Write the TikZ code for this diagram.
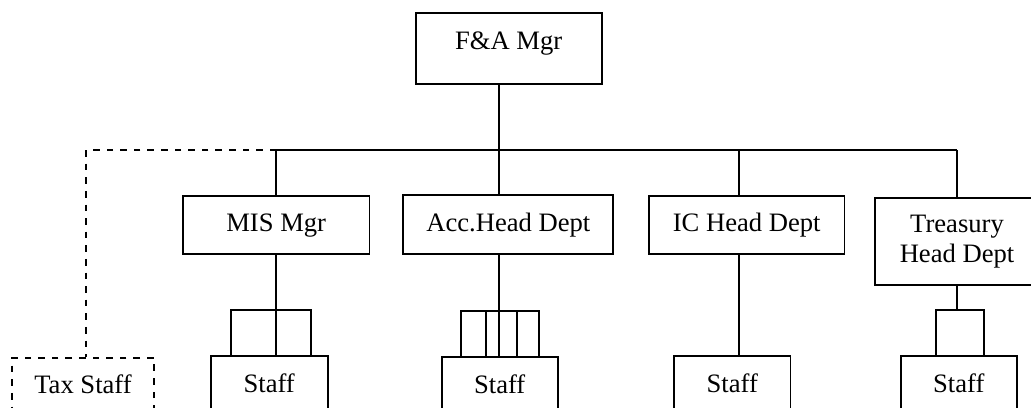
\documentclass[tikz,border=0pt]{standalone}
\usepackage{fontspec}
\setmainfont{Liberation Serif}
\usepackage{tikz}

\begin{document}
\begin{tikzpicture}[x=0.5pt,y=-0.5pt,line width=0.85pt,
    unit/.style={draw,inner sep=0pt,anchor=base,text height=18pt,text depth=11.2pt,
      font=\fontsize{13.3}{15}\selectfont},
    staffbox/.style={unit,text depth=40pt},
    taxline/.style={dash pattern=on 3.3pt off 3.5pt}]
  \useasboundingbox (0,0) rectangle (1031,407);
  \clip (0,0) rectangle (1031,407);
  \node[unit,text depth=17.4pt,minimum width=93pt] (fa) at (508.7,49.3) {F\&A Mgr};
  \node[unit,minimum width=93.2pt] (mis) at (276.2,231.7) {MIS Mgr};
  \node[unit,minimum width=105pt] (acc) at (508.3,231.3) {Acc.Head Dept};
  \node[unit,minimum width=97.7pt] (ic) at (746.7,231.7) {IC Head Dept};
  \node[unit,anchor=center,text height=,text depth=,align=center,
    minimum width=82pt,minimum height=43.7pt] (tre) at (957,241.5) {Treasury\\Head Dept};
  \node[staffbox,minimum width=58.5pt] (staffmis) at (269.2,392) {Staff};
  \node[staffbox,minimum width=58pt] (staffacc) at (499.7,393) {Staff};
  \node[staffbox,minimum width=58.3pt] (staffic) at (732.3,392) {Staff};
  \node[staffbox,minimum width=57.9pt] (stafftre) at (958.8,392) {Staff};
  \node[staffbox,taxline,minimum width=71pt] (tax) at (83,393.7) {Tax Staff};

  \coordinate (cmis) at (276.3,150);
  \coordinate (cacc) at (499.3,150);
  \coordinate (cic) at (738.7,150);
  \coordinate (ctre) at (957,150);
  \coordinate (ctax) at (86,150);

  \draw (fa.south -| cacc) -- (cacc);
  \draw (cmis) -- (ctre);
  \foreach \c/\n in {cmis/mis,cacc/acc,cic/ic,ctre/tre}
    \draw (\c) -- (\n.north -| \c);
  \draw[taxline] (cmis) -- (ctax) -- (tax.north -| ctax);

  \draw (mis.south -| cmis) -- (staffmis.north -| cmis);
  \draw (acc.south -| cacc) -- (staffacc.north -| cacc);
  \draw (ic.south -| cic) -- (staffic.north -| cic);

  \coordinate (mb1) at (231,310);
  \coordinate (mb2) at (311.3,310);
  \draw (staffmis.north -| mb1) |- (mb2) -- (staffmis.north -| mb2);

  \coordinate (ab1) at (461,311);
  \coordinate (ab2) at (539,311);
  \draw (staffacc.north -| ab1) |- (ab2) -- (staffacc.north -| ab2);
  \foreach \x in {486,517}
    \draw (\x,311) -- (staffacc.north -| {\x,311});

  \coordinate (tb1) at (935.7,310);
  \coordinate (tb2) at (984,310);
  \draw (tre.south) -- (tre.south |- tb1);
  \draw (stafftre.north -| tb1) |- (tb2) -- (stafftre.north -| tb2);
\end{tikzpicture}
\end{document}
